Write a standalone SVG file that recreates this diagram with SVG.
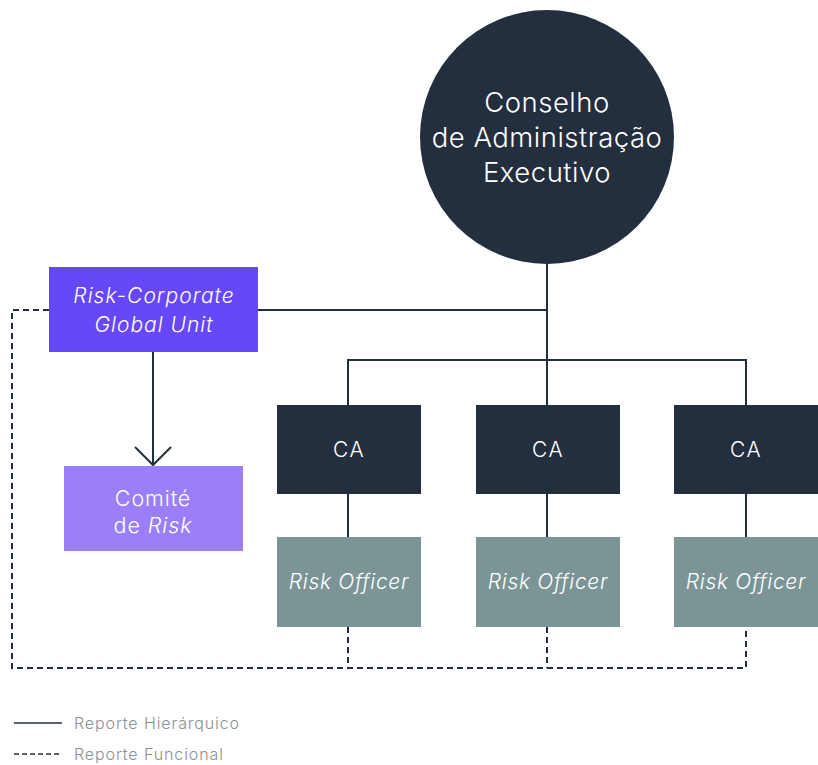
<svg xmlns="http://www.w3.org/2000/svg" width="818" height="765" viewBox="0 0 818 765">
<style>
text{font-family:Inter,"Liberation Sans",sans-serif;fill:#ffffff;text-anchor:middle;font-weight:300}
.it{font-style:italic}
.solid{fill:none;stroke:#232e3e;stroke-width:2}
.dash{fill:none;stroke:#232e3e;stroke-width:2;stroke-dasharray:6 4}
.legend{fill:#8a9096;text-anchor:start;font-size:16px;letter-spacing:0.9px}
</style>
<rect width="818" height="765" fill="#ffffff"/>
<g id="connectors">
<line class="solid" x1="547" y1="262" x2="547" y2="360"/>
<line class="solid" x1="258" y1="310" x2="547" y2="310"/>
<polyline class="solid" points="348,405 348,360 746,360 746,405"/>
<line class="solid" x1="547" y1="360" x2="547" y2="405"/>
<line class="solid" x1="348" y1="494" x2="348" y2="537"/>
<line class="solid" x1="547" y1="494" x2="547" y2="537"/>
<line class="solid" x1="746" y1="494" x2="746" y2="537"/>
<line class="solid" x1="153" y1="352" x2="153" y2="465"/>
<polyline class="solid" points="135,447 153,465 171,447"/>
<polyline class="dash" points="49,310 12,310 12,668 746,668 746,627"/>
<line class="dash" x1="348" y1="627" x2="348" y2="668"/>
<line class="dash" x1="547" y1="627" x2="547" y2="668"/>
</g>
<g id="conselho">
<circle cx="547" cy="137" r="127" fill="#232e3e"/>
<text x="547" y="112" font-size="27.5" letter-spacing="0.5">Conselho</text>
<text x="547" y="147" font-size="27.5" letter-spacing="0.5">de Administração</text>
<text x="547" y="182" font-size="27.5" letter-spacing="0.5">Executivo</text>
</g>
<g id="risk-corporate">
<rect x="49" y="267" width="209" height="85" fill="#6747fa"/>
<text class="it" x="154" y="303" font-size="21" letter-spacing="1">Risk-Corporate</text>
<text class="it" x="154" y="332" font-size="21" letter-spacing="1">Global Unit</text>
</g>
<g id="comite">
<rect x="64" y="466" width="179" height="85" fill="#9b7ffa"/>
<text x="153" y="506" font-size="21.5" letter-spacing="0.9">Comité</text>
<text x="153" y="533" font-size="21.5" letter-spacing="0.9">de <tspan class="it">Risk</tspan></text>
</g>
<g id="ca1">
<rect x="277" y="405" width="144" height="89" fill="#232e3e"/>
<text x="349" y="457" font-size="21" letter-spacing="1.5">CA</text>
</g>
<g id="ca2">
<rect x="476" y="405" width="144" height="89" fill="#232e3e"/>
<text x="548" y="457" font-size="21" letter-spacing="1.5">CA</text>
</g>
<g id="ca3">
<rect x="674" y="405" width="144" height="89" fill="#232e3e"/>
<text x="746" y="457" font-size="21" letter-spacing="1.5">CA</text>
</g>
<g id="ro1">
<rect x="277" y="537" width="144" height="90" fill="#7b9496"/>
<text class="it" x="349" y="589" font-size="21" letter-spacing="0.7">Risk Officer</text>
</g>
<g id="ro2">
<rect x="476" y="537" width="144" height="90" fill="#7b9496"/>
<text class="it" x="548" y="589" font-size="21" letter-spacing="0.7">Risk Officer</text>
</g>
<g id="ro3">
<rect x="674" y="537" width="144" height="90" fill="#7b9496"/>
<text class="it" x="746" y="589" font-size="21" letter-spacing="0.7">Risk Officer</text>
</g>
<g id="legend">
<line x1="14" y1="723" x2="62" y2="723" stroke="#232e3e" stroke-width="1.5"/>
<text class="legend" x="74" y="729">Reporte Hierárquico</text>
<line x1="14" y1="754" x2="62" y2="754" stroke="#232e3e" stroke-width="1.5" stroke-dasharray="5 3"/>
<text class="legend" x="74" y="760">Reporte Funcional</text>
</g>
</svg>
